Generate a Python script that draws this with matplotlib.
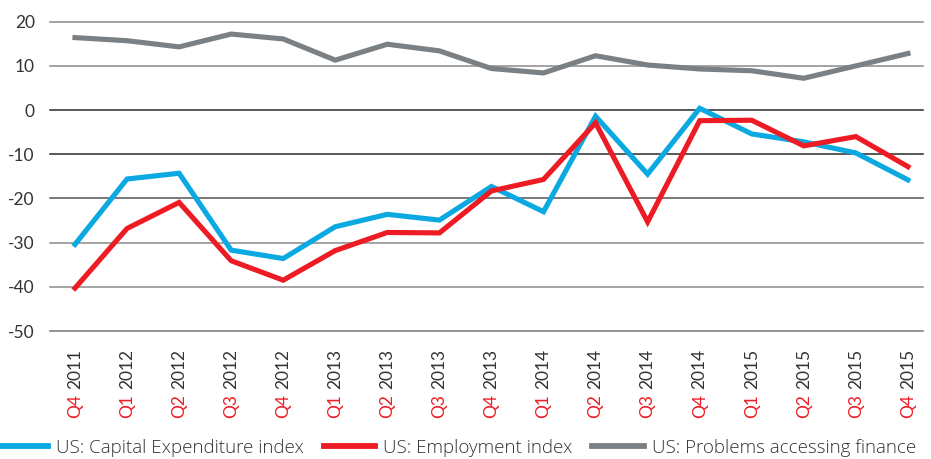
import matplotlib
matplotlib.use("Agg")
import matplotlib.pyplot as plt
from matplotlib.lines import Line2D

plt.rcParams['font.family'] = ['Lato', 'DejaVu Sans']

quarters = ["Q4", "Q1", "Q2", "Q3", "Q4", "Q1", "Q2", "Q3", "Q4",
            "Q1", "Q2", "Q3", "Q4", "Q1", "Q2", "Q3", "Q4"]
years = ["2011", "2012", "2012", "2012", "2012", "2013", "2013", "2013", "2013",
         "2014", "2014", "2014", "2014", "2015", "2015", "2015", "2015"]

capex = [-30.4, -15.6, -14.3, -31.7, -33.6, -26.4, -23.6, -24.9, -17.3,
         -23.0, -1.4, -14.5, 0.4, -5.4, -7.2, -9.7, -15.8]
employment = [-40.3, -26.8, -20.9, -34.1, -38.5, -31.8, -27.7, -27.8, -18.3,
              -15.7, -2.9, -25.3, -2.4, -2.3, -8.1, -6.0, -12.8]
finance = [16.4, 15.7, 14.3, 17.2, 16.1, 11.3, 14.9, 13.4, 9.4,
           8.4, 12.3, 10.2, 9.3, 8.9, 7.2, 10.0, 12.8]

yticks = [20, 10, 0, -10, -20, -30, -40, -50]

series_labels = ["US: Capital Expenditure index", "US: Employment index",
                 "US: Problems accessing finance"]
colors = ["#0BA9E1", "#ED1C24", "#7A8083"]

W, H = 931, 459
fig = plt.figure(figsize=(W / 100, H / 100), dpi=100)
ax = fig.add_axes([50 / W, 1 - 331 / H, (923 - 50) / W, (331 - 21.7) / H])

x = list(range(len(quarters)))
for vals, c in zip([capex, employment, finance], colors):
    ax.plot(x, vals, color=c, lw=3.7, solid_joinstyle='miter', zorder=3)

ax.set_ylim(-50, 20)
ax.set_xlim(-0.48, len(x) - 1 + 0.29)
ax.set_yticks(yticks)
ax.set_yticklabels([str(v) for v in yticks])
ax.tick_params(axis='y', length=0, pad=11, labelsize=12.5, labelcolor="#333333")
ax.set_xticks([])
for s in ax.spines.values():
    s.set_visible(False)

grid_colors = {20: "#8a8a8a", 10: "#8a8a8a", 0: "#2a2a2a", -10: "#2a2a2a",
               -20: "#555555", -30: "#8a8a8a", -40: "#8a8a8a", -50: "#777777"}
for v in yticks:
    ax.axhline(v, color=grid_colors[v], lw=1.1, zorder=1, clip_on=False)

# two-colour rotated tick labels
for i, (q, yr) in enumerate(zip(quarters, years)):
    t = ax.annotate(yr, xy=(i, 0), xycoords=('data', 'axes fraction'),
                    xytext=(0, -18), textcoords='offset pixels',
                    rotation=90, ha='center', va='top', fontsize=12.5,
                    color="#333333")
    ax.annotate(q, xy=(0.5, 0), xycoords=t, xytext=(0, -5),
                textcoords='offset pixels', rotation=90, ha='center',
                va='top', fontsize=12.5, color="#ED1C24")

handles = [Line2D([0], [0], color=c, lw=4.2) for c in colors]
fig.legend(handles, series_labels, loc='center', bbox_to_anchor=(0.49, 0.024),
           ncol=3, frameon=False, handlelength=2.75,
           handletextpad=0.42, columnspacing=1.06, borderpad=0,
           labelcolor="#333333",
           prop={'family': ['Open Sans', 'DejaVu Sans'], 'size': 13.5,
                 'weight': 'light'})

fig.savefig("out.png", dpi=100)
